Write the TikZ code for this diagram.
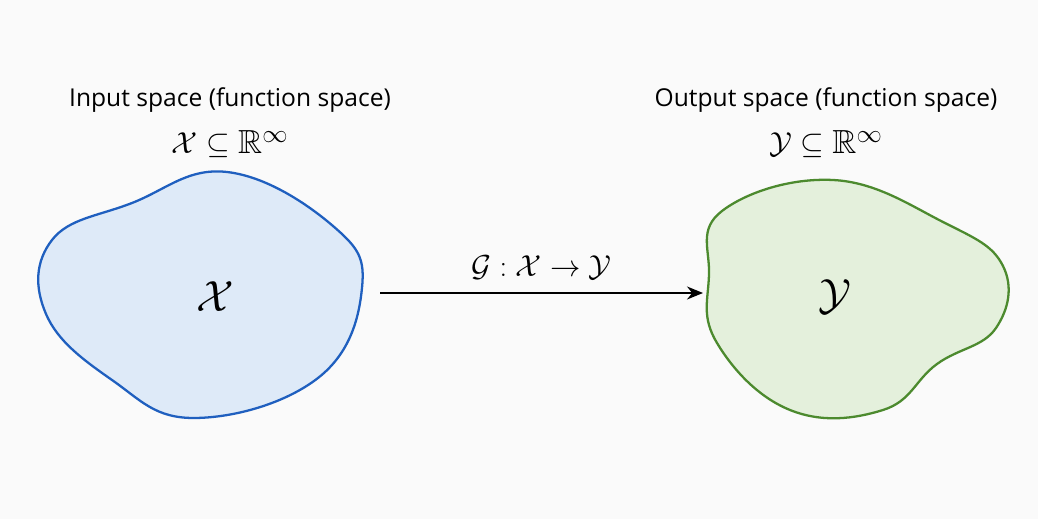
\documentclass[tikz,border=0pt]{standalone}
\usepackage{fontspec}
\usepackage{amsmath,amssymb}
\usetikzlibrary{arrows.meta,positioning}
\setmainfont{Open Sans}
\definecolor{inblue}{HTML}{1F5FBF}
\definecolor{infill}{HTML}{DEEAF8}
\definecolor{outgreen}{HTML}{4C8A2E}
\definecolor{outfill}{HTML}{E4F0DC}
\definecolor{paper}{HTML}{FAFAFA}
\tikzset{
  inspace/.style={draw=inblue, fill=infill, line width=1.3pt},
  outspace/.style={draw=outgreen, fill=outfill, line width=1.3pt},
  title/.style={font=\fontsize{14}{16}\selectfont, inner sep=0pt},
  setlabel/.style={font=\fontsize{19}{22}\selectfont, inner sep=0pt},
  biglabel/.style={font=\fontsize{30}{34}\selectfont, inner sep=0pt},
  arrow/.style={-{Stealth[length=3.2mm, width=2.6mm]}, line width=1.1pt, draw=black}
}

\begin{document}
\begin{tikzpicture}[x=0.02cm, y=-0.02cm]
  \fill[paper] (0,0) rectangle (1038,519);
  \useasboundingbox (0,0) rectangle (1038,519);

  % input space
  \draw[inspace] plot[smooth cycle, tension=0.7] coordinates {
    (227,172) (333,226) (362,288) (318,378) (195,418) (112,380)
    (46,314) (52,240) (132,203)};
  \node[biglabel] (xin) at (215,297) {$\mathcal{X}$};
  \node[title] (intitle) at (230,100) {Input space (function space)};
  \node[setlabel, below=3.5mm of intitle] (inset) {$\mathcal{X}\subseteq\mathbb{R}^{\infty}$};

  % output space
  \draw[outspace] plot[smooth cycle, tension=0.7] coordinates {
    (722,211) (833,180) (943,222) (1003,266) (996,328) (937,364)
    (883,410) (790,410) (717,343) (709,275)};
  \node[biglabel] (yout) at (835,297) {$\mathcal{Y}$};
  \node[title] (outtitle) at (826,100) {Output space (function space)};
  \node[setlabel, below=3.5mm of outtitle] (outset) {$\mathcal{Y}\subseteq\mathbb{R}^{\infty}$};

  % operator
  \coordinate (from) at (380,293);
  \coordinate (to) at (703,293);
  \draw[arrow] (from) -- (to) node[midway, above=2.5mm, setlabel] (op) {$\mathcal{G}:\mathcal{X}\to\mathcal{Y}$};
\end{tikzpicture}
\end{document}
